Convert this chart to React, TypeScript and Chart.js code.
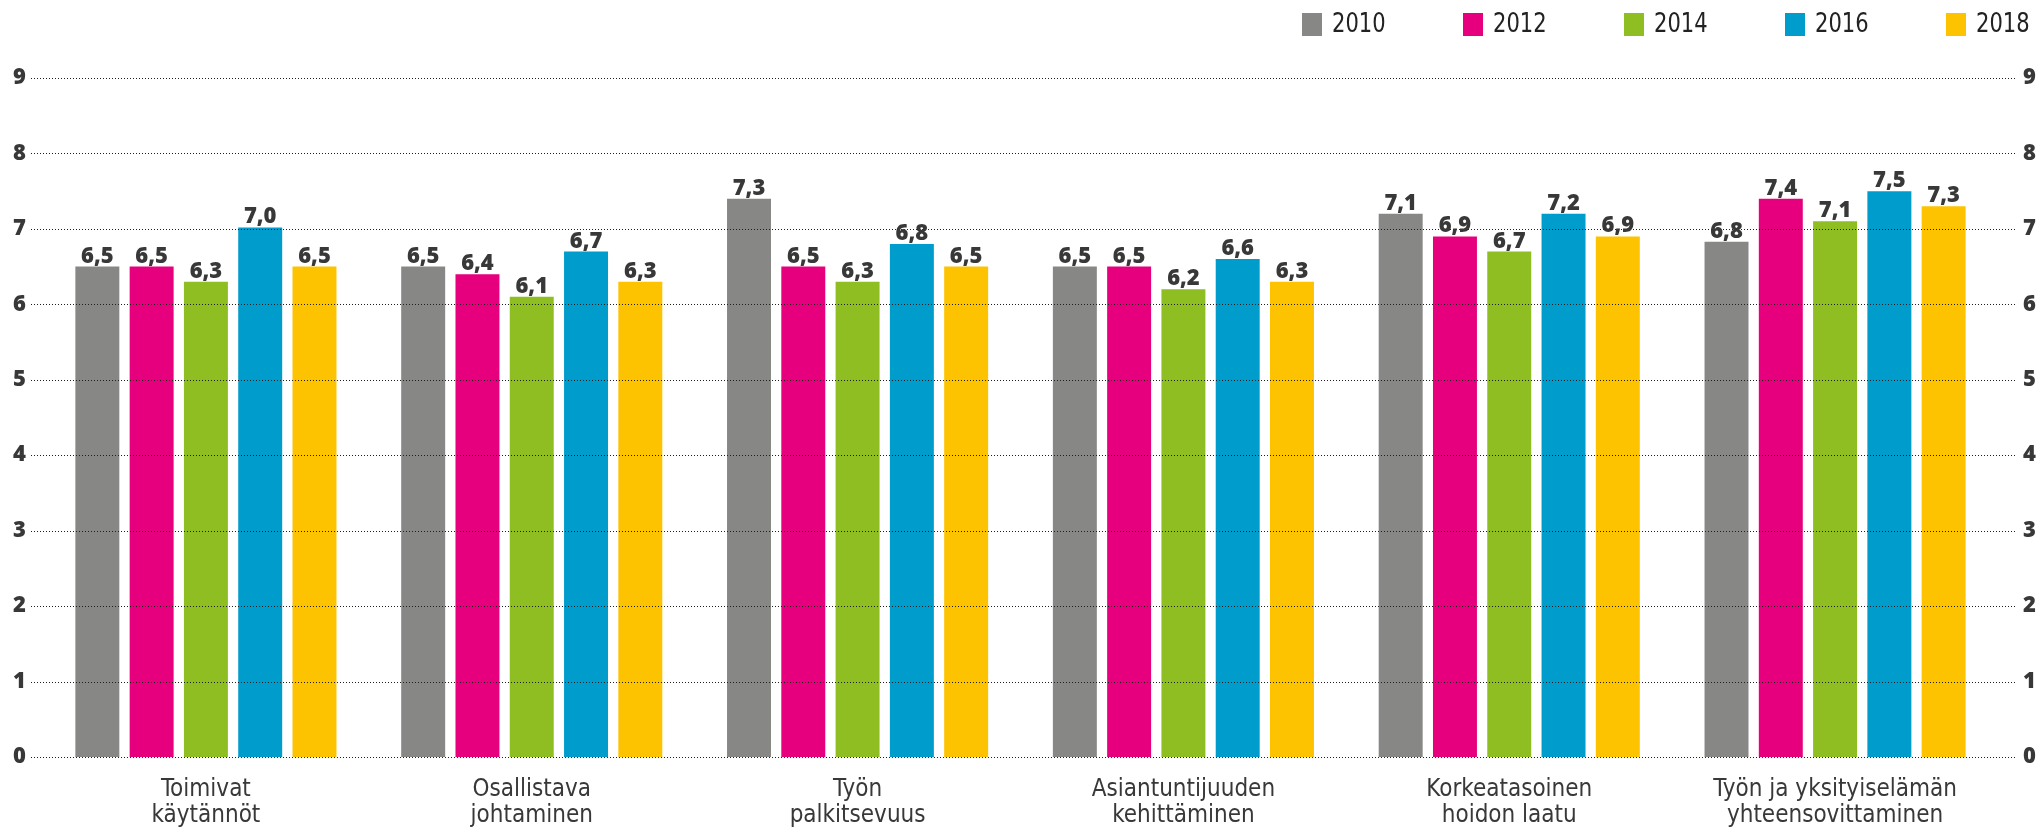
import React, { useEffect, useRef } from 'react';
import { Chart, registerables } from 'chart.js';

Chart.register(...registerables);

const categories: string[][] = [
  ['Toimivat', 'käytännöt'],
  ['Osallistava', 'johtaminen'],
  ['Työn', 'palkitsevuus'],
  ['Asiantuntijuuden', 'kehittäminen'],
  ['Korkeatasoinen', 'hoidon laatu'],
  ['Työn ja yksityiselämän', 'yhteensovittaminen'],
];
const years = ['2010', '2012', '2014', '2016', '2018'];
const colors = ['#878885', '#E6007E', '#8FBE22', '#009CCC', '#FDC300'];

// bar heights as drawn
const values2010 = [6.5, 6.5, 7.4, 6.5, 7.2, 6.83];
const values2012 = [6.5, 6.4, 6.5, 6.5, 6.9, 7.4];
const values2014 = [6.3, 6.1, 6.3, 6.2, 6.7, 7.1];
const values2016 = [7.02, 6.7, 6.8, 6.6, 7.2, 7.5];
const values2018 = [6.5, 6.3, 6.5, 6.3, 6.9, 7.3];

// printed value labels
const labels2010 = ['6,5', '6,5', '7,3', '6,5', '7,1', '6,8'];
const labels2012 = ['6,5', '6,4', '6,5', '6,5', '6,9', '7,4'];
const labels2014 = ['6,3', '6,1', '6,3', '6,2', '6,7', '7,1'];
const labels2016 = ['7,0', '6,7', '6,8', '6,6', '7,2', '7,5'];
const labels2018 = ['6,5', '6,3', '6,5', '6,3', '6,9', '7,3'];

const yTicks = [0, 1, 2, 3, 4, 5, 6, 7, 8, 9];

const seriesValues = [values2010, values2012, values2014, values2016, values2018];
const seriesLabels = [labels2010, labels2012, labels2014, labels2016, labels2018];

const TEXT = '#383838';
const BOLD_FONT = '"Open Sans", "DejaVu Sans", sans-serif';
const NARROW_FONT = '"Liberation Sans Narrow", "DejaVu Sans Condensed", sans-serif';

const gridPlugin = {
  id: 'dottedGrid',
  afterDatasetsDraw(chart: any) {
    const { ctx, scales } = chart;
    const y = scales.y;
    ctx.save();
    ctx.strokeStyle = '#1e1e1e';
    ctx.lineWidth = 1;
    ctx.setLineDash([1, 2]);
    yTicks.forEach((v) => {
      const py = Math.round(y.getPixelForValue(v)) + 0.5;
      ctx.beginPath();
      ctx.moveTo(31, py);
      ctx.lineTo(2017, py);
      ctx.stroke();
    });
    ctx.restore();
  },
};

const valueLabelPlugin = {
  id: 'valueLabels',
  afterDatasetsDraw(chart: any) {
    const { ctx } = chart;
    ctx.save();
    ctx.font = `800 22px ${BOLD_FONT}`;
    ctx.fillStyle = TEXT;
    ctx.textAlign = 'center';
    ctx.textBaseline = 'alphabetic';
    chart.data.datasets.forEach((ds: any, di: number) => {
      const meta = chart.getDatasetMeta(di);
      meta.data.forEach((bar: any, i: number) => {
        ctx.fillText(seriesLabels[di][i], bar.x, bar.y - 4);
      });
    });
    ctx.restore();
  },
};

const legendPlugin = {
  id: 'customLegend',
  afterDraw(chart: any) {
    const { ctx } = chart;
    const boxW = 20;
    const boxH = 23;
    const gap = 10;
    const step = 161;
    const left = 1302;
    const top = 13;
    chart.data.datasets.forEach((ds: any, i: number) => {
      const x = left + i * step;
      ctx.save();
      ctx.fillStyle = ds.backgroundColor;
      ctx.fillRect(x, top, boxW, boxH);
      ctx.translate(x + boxW + gap, top + boxH / 2 + 1);
      ctx.scale(0.9, 1);
      ctx.font = `26px ${NARROW_FONT}`;
      ctx.fillStyle = '#222222';
      ctx.textAlign = 'left';
      ctx.textBaseline = 'middle';
      ctx.fillText(ds.label, 0, 0);
      ctx.restore();
    });
  },
};

export default function App() {
  const ref = useRef<HTMLCanvasElement | null>(null);

  useEffect(() => {
    document.body.style.margin = '0';
    const canvas = ref.current;
    if (!canvas) return;
    const chart = new Chart(canvas, {
      type: 'bar',
      data: {
        labels: categories,
        datasets: years.map((yr, i) => ({
          label: yr,
          data: seriesValues[i],
          backgroundColor: colors[i],
          borderWidth: 0,
          categoryPercentage: 0.833,
          barPercentage: 0.81,
          yAxisID: 'y',
        })),
      },
      options: {
        responsive: false,
        animation: false,
        devicePixelRatio: 1,
        layout: { padding: { top: 78, left: 0, right: 0, bottom: 0 } },
        plugins: {
          legend: { display: false },
          tooltip: { enabled: false },
        },
        scales: {
          x: {
            grid: { display: false, drawTicks: false },
            border: { display: false },
            ticks: {
              autoSkip: false,
              maxRotation: 0,
              minRotation: 0,
              padding: 20,
              color: TEXT,
              font: { family: NARROW_FONT, size: 24, lineHeight: 1.08 },
            },
            afterFit(scale: any) {
              scale.height = 70;
            },
          },
          y: {
            position: 'left',
            min: 0,
            max: 9,
            grid: { display: false, drawTicks: false },
            border: { display: false },
            ticks: {
              stepSize: 1,
              padding: 17,
              color: TEXT,
              font: { family: BOLD_FONT, size: 22, weight: '800' },
            },
            afterFit(scale: any) {
              scale.width = 43;
            },
          },
          y2: {
            position: 'right',
            min: 0,
            max: 9,
            grid: { display: false, drawTicks: false },
            border: { display: false },
            ticks: {
              stepSize: 1,
              padding: 25,
              color: TEXT,
              font: { family: BOLD_FONT, size: 22, weight: '800' },
            },
            afterFit(scale: any) {
              scale.width = 42;
            },
          },
        },
      } as any,
      plugins: [gridPlugin, valueLabelPlugin, legendPlugin],
    });
    return () => chart.destroy();
  }, []);

  return (
    <div style={{ width: 2040, height: 827, background: '#ffffff' }}>
      <canvas ref={ref} width={2040} height={827} style={{ display: 'block' }} />
    </div>
  );
}
